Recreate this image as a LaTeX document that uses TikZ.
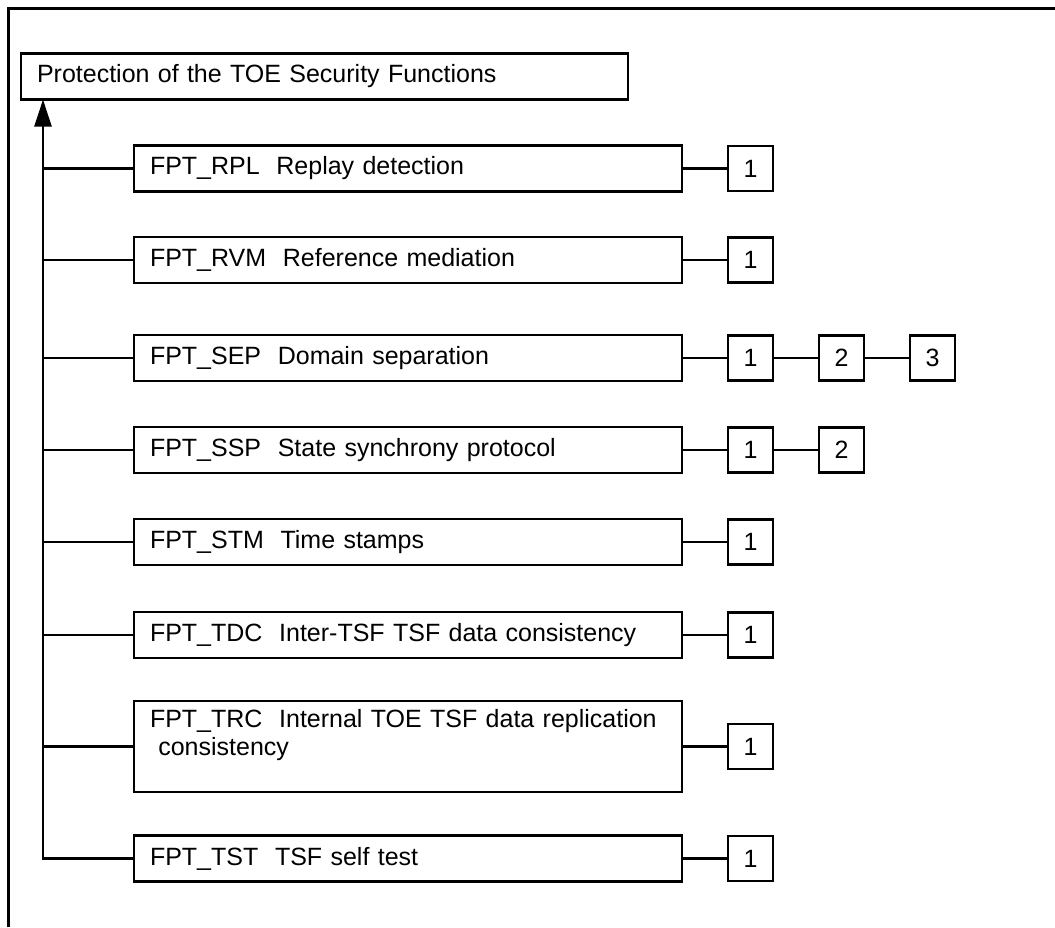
\documentclass[tikz,border=0pt]{standalone}
\usepackage{fontspec}
\setmainfont{Liberation Sans}
\usetikzlibrary{arrows.meta}

\tikzset{
    kasten/.style={draw, line width=2.5pt, outer sep=0pt, minimum height=46pt, inner xsep=16pt, text width=516pt, align=left, anchor=west},
    nummer/.style={draw, line width=2.5pt, outer sep=0pt, minimum size=45pt, inner sep=0pt},
    linie/.style={line width=2.5pt}
}

\begin{document}
\begin{tikzpicture}[x=1pt, y=-1pt, font=\fontsize{25}{28}\selectfont]
    \useasboundingbox (0,0) rectangle (1055,927);
    \draw[line width=3pt] (8.5,927) -- (8.5,8.5) -- (1055,8.5);
    \path node[kasten, text width=575pt] (TSF) at (21,76.5) {Protection of the TOE Security Functions}
        node[kasten] (RPL) at (134,168.5) {FPT\_RPL\ \ Replay detection}
        node[kasten] (RVM) at (134,260) {FPT\_RVM\ \ Reference mediation}
        node[kasten] (SEP) at (134,358) {FPT\_SEP\ \ Domain separation}
        node[kasten] (SSP) at (134,450) {FPT\_SSP\ \ State synchrony protocol}
        node[kasten] (STM) at (134,542) {FPT\_STM\ \ Time stamps}
        node[kasten] (TDC) at (134,635) {FPT\_TDC\ \ Inter-TSF TSF data consistency}
        node[kasten, minimum height=91pt] (TRC) at (134,746.5) {FPT\_TRC\ \ Internal TOE TSF data replication\\\ consistency\\\mbox{}}
        node[kasten] (TST) at (134,858.5) {FPT\_TST\ \ TSF self test};
    \path node[nummer] (RPL1) at (750.5,168.5) {1}
        node[nummer] (RVM1) at (750.5,260) {1}
        node[nummer] (SEP1) at (750.5,358) {1}
        node[nummer] (SEP2) at (841.5,358) {2}
        node[nummer] (SEP3) at (932.5,358) {3}
        node[nummer] (SSP1) at (750.5,450) {1}
        node[nummer] (SSP2) at (841.5,450) {2}
        node[nummer] (STM1) at (750.5,542) {1}
        node[nummer] (TDC1) at (750.5,635) {1}
        node[nummer] (TRC1) at (750.5,746.5) {1}
        node[nummer] (TST1) at (750.5,858.5) {1};
    % stamm mit pfeil zur familie
    \coordinate (stamm) at ([xshift=-91pt]TST.west);
    \draw[linie, -{Triangle[length=27pt, width=17pt]}] (TST.west) -- (stamm) -- (stamm |- TSF.south);
    \foreach \f in {RPL,RVM,SEP,SSP,STM,TDC,TRC}
        \draw[linie] (stamm |- \f.west) -- (\f.west);
    % komponenten
    \foreach \a/\b in {RPL/RPL1,RVM/RVM1,SEP/SEP1,SEP1/SEP2,SEP2/SEP3,SSP/SSP1,SSP1/SSP2,STM/STM1,TDC/TDC1,TRC/TRC1,TST/TST1}
        \draw[linie] (\a.east) -- (\b.west);
\end{tikzpicture}
\end{document}
